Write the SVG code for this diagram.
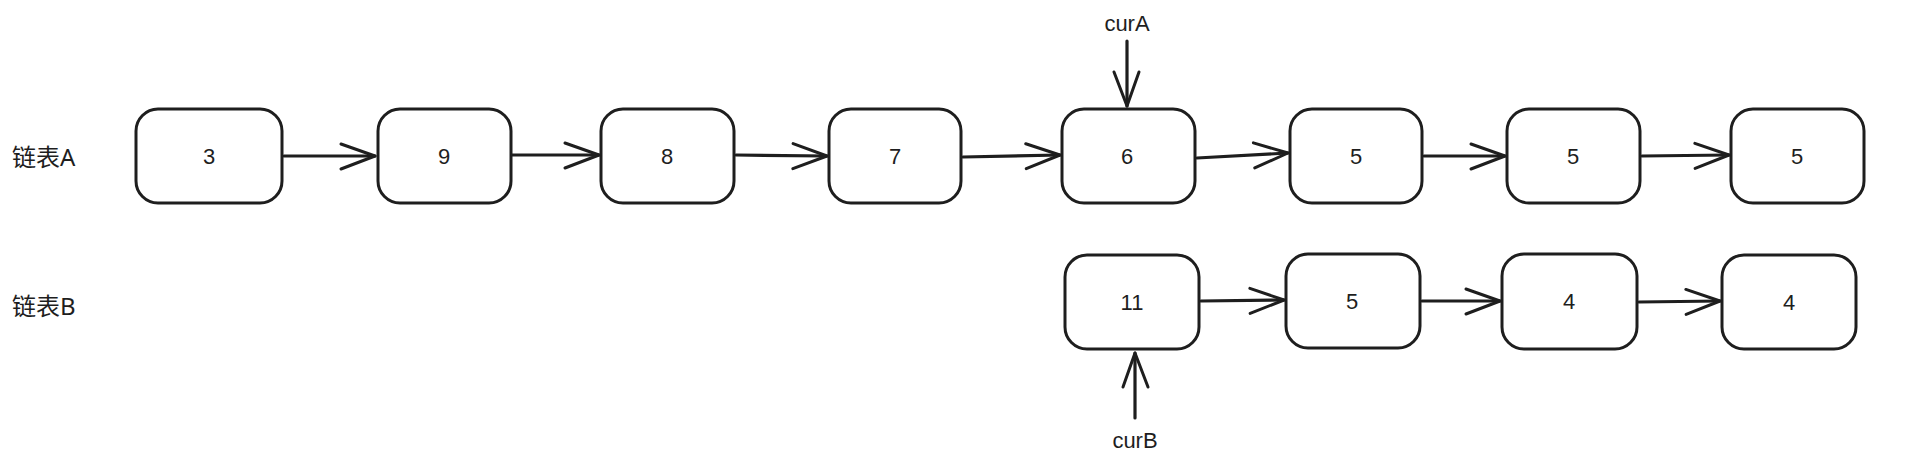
<svg xmlns="http://www.w3.org/2000/svg" width="1909" height="472" viewBox="0 0 1909 472">
<style>
.box{fill:#fff;stroke:#1e1e1e;stroke-width:3}
.t{font-family:"Liberation Sans","Noto Sans CJK SC",sans-serif;font-size:22px;fill:#1e1e1e;text-anchor:middle;dominant-baseline:central}
.lbl{font-family:"Noto Sans","Noto Sans CJK SC",sans-serif;font-size:24px;fill:#1e1e1e;dominant-baseline:central}
.c{fill:none;stroke:#1e1e1e;stroke-width:3.2;stroke-linecap:round;marker-end:url(#ah)}
</style>
<defs>
<marker id="ah" markerUnits="userSpaceOnUse" markerWidth="40" markerHeight="30" refX="36" refY="14" orient="auto" viewBox="0 0 40 30">
<path d="M2,2 L36,14 L2,27" fill="none" stroke="#1e1e1e" stroke-width="3" stroke-linecap="round" stroke-linejoin="round"/>
</marker>
</defs>
<rect width="1909" height="472" fill="#fff"/>
<text class="lbl" x="12" y="156">链表A</text>
<text class="lbl" x="12" y="305">链表B</text>
<g id="a1"><rect class="box" x="136" y="109" width="146" height="94" rx="22"/><text class="t" x="209" y="156">3</text></g>
<g id="a2"><rect class="box" x="378" y="109" width="133" height="94" rx="22"/><text class="t" x="444" y="156">9</text></g>
<g id="a3"><rect class="box" x="601" y="109" width="133" height="94" rx="22"/><text class="t" x="667" y="156">8</text></g>
<g id="a4"><rect class="box" x="829" y="109" width="132" height="94" rx="22"/><text class="t" x="895" y="156">7</text></g>
<g id="a5"><rect class="box" x="1062" y="109" width="133" height="94" rx="22"/><text class="t" x="1127" y="156">6</text></g>
<g id="a6"><rect class="box" x="1290" y="109" width="132" height="94" rx="22"/><text class="t" x="1356" y="156">5</text></g>
<g id="a7"><rect class="box" x="1507" y="109" width="133" height="94" rx="22"/><text class="t" x="1573" y="156">5</text></g>
<g id="a8"><rect class="box" x="1731" y="109" width="133" height="94" rx="22"/><text class="t" x="1797" y="156">5</text></g>
<g id="b1"><rect class="box" x="1065" y="255" width="134" height="94" rx="22"/><text class="t" x="1132" y="302">11</text></g>
<g id="b2"><rect class="box" x="1286" y="254" width="134" height="94" rx="22"/><text class="t" x="1352" y="301">5</text></g>
<g id="b3"><rect class="box" x="1502" y="254" width="135" height="95" rx="22"/><text class="t" x="1569" y="301">4</text></g>
<g id="b4"><rect class="box" x="1722" y="255" width="134" height="94" rx="22"/><text class="t" x="1789" y="302">4</text></g>
<g id="curA"><text class="t" x="1127" y="23">curA</text></g>
<g id="curB"><text class="t" x="1135" y="440">curB</text></g>
<g id="connectors">
<path class="c" d="M284,156 L375,156"/>
<path class="c" d="M512,155 L599,155"/>
<path class="c" d="M736,155 L827,156"/>
<path class="c" d="M963,157 L1060,155"/>
<path class="c" d="M1197,158 L1288,153"/>
<path class="c" d="M1424,156 L1505,156"/>
<path class="c" d="M1642,156 L1729,155"/>
<path class="c" d="M1201,301 L1284,300"/>
<path class="c" d="M1422,301 L1500,301"/>
<path class="c" d="M1639,302 L1720,301"/>
<path class="c" d="M1127,41 L1127,106"/>
<path class="c" d="M1135,418 L1135,353"/>
</g>
</svg>
